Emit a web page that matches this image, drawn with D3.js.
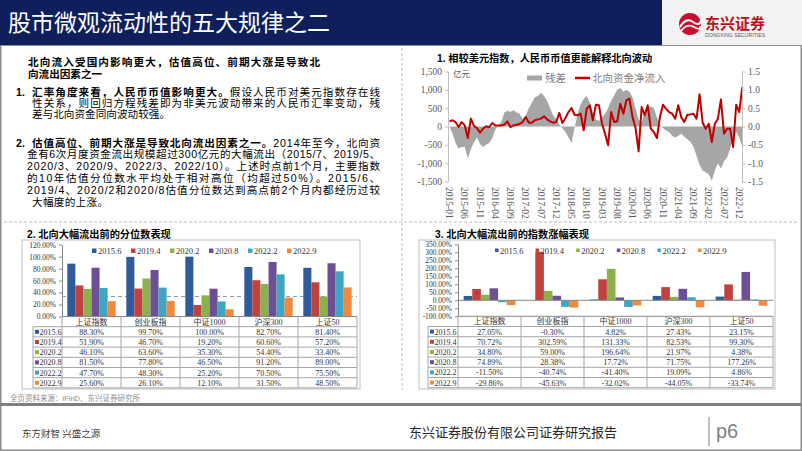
<!DOCTYPE html>
<html><head><meta charset="utf-8">
<script src="https://cdn.jsdelivr.net/npm/d3@7"></script>
<style>body{margin:0;background:#fff}svg{display:block}</style>
</head><body>
<svg id="c" width="802" height="451"></svg>
<script>
// ---------------- DATA ----------------
const tickMonths = ["2015-01","2015-06","2015-11","2016-04","2016-09","2017-02","2017-07","2017-12","2018-05","2018-10","2019-03","2019-08","2020-01","2020-06","2020-11","2021-04","2021-09","2022-02","2022-07","2022-12"];
// northbound net inflow (亿元), monthly 2015-01 .. 2023-01
const inflow = [140,170,120,-15,120,30,-315,215,15,-40,
  -170,-60,5,-20,95,30,30,30,50,140,
  -20,30,50,70,120,260,105,105,170,195,
  215,280,195,140,105,120,370,95,230,395,
  505,320,305,350,-105,485,577,168,595,577,
  77,-195,-513,395,123,141,622,350,714,759,
  259,-40,-677,532,305,577,-59,-150,-314,259,
  595,480,395,350,214,577,250,123,323,330,
  350,214,880,100,-59,77,-423,77,214,740,
  -195,-59,-59,-559,595,395,1077];
// residual (right axis)
const residual = [0.00,-0.20,-0.45,-0.60,-0.56,-0.55,-0.87,-0.62,-0.43,-0.30,
  -0.48,-0.56,-0.50,-0.45,-0.32,-0.08,0.02,0.12,0.38,0.43,
  0.40,0.44,0.38,0.35,0.20,0.30,0.50,0.65,0.80,0.83,
  0.92,0.83,0.70,0.50,0.30,0.20,0.06,-0.05,-0.15,-0.30,
  -0.45,-0.05,0.35,0.60,0.75,0.83,0.65,0.40,0.20,0.15,
  0.25,0.35,0.50,0.70,0.85,1.00,1.05,0.95,1.00,0.95,
  0.80,0.50,0.20,0.10,0.40,0.50,0.55,0.50,0.25,0.05,
  -0.05,-0.10,-0.15,-0.25,-0.30,-0.25,-0.20,-0.28,-0.35,-0.42,
  -0.55,-0.80,-1.05,-1.20,-1.25,-1.30,-1.48,-1.20,-1.00,-1.15,
  -0.95,-0.85,-0.60,-0.35,-0.15,-0.30,-0.55];

const indices = ["上证指数","创业板指","中证1000","沪深300","上证50"];
const periods = ["2015.6","2019.4","2020.2","2020.8","2022.2","2022.9"];
// chart 2: valuation percentile (%)
const pct2015_6 = [88.30, 99.70, 100.00, 82.70, 81.40];
const pct2019_4 = [51.90, 46.70, 19.20, 60.60, 57.20];
const pct2020_2 = [46.10, 63.60, 35.30, 54.40, 33.40];
const pct2020_8 = [81.50, 77.80, 46.50, 91.20, 89.00];
const pct2022_2 = [47.70, 48.30, 25.20, 70.50, 75.50];
const pct2022_9 = [25.60, 26.10, 12.10, 31.50, 48.50];
const pctTicks = [0,20,40,60,80,100,120];
const pctRefLine = 33.5;
// chart 3: index gain (%)
const gain2015_6 = [27.05, -0.30, 4.82, 27.43, 23.15];
const gain2019_4 = [70.72, 302.59, 131.33, 82.53, 99.30];
const gain2020_2 = [34.80, 59.00, 196.64, 21.97, 4.38];
const gain2020_8 = [74.89, 28.38, 17.72, 71.75, 177.26];
const gain2022_2 = [-11.50, -40.74, -41.40, 19.09, 4.86];
const gain2022_9 = [-29.86, -45.63, -32.02, -44.05, -33.74];
const gainTicks = [-100,-50,0,50,100,150,200,250,300,350];

// ---------------- STYLE ----------------
const SANS = "'Liberation Sans','Noto Sans CJK SC',sans-serif";
const SERIF = "'Liberation Serif','Noto Sans CJK SC',serif";
const CJK = "'Noto Sans CJK SC',sans-serif";
const barColors = ["#2f5b9a","#c0413d","#8db04f","#6c5093","#3ea6c2","#f08a3c"];

const svg = d3.select("#c");

// frame & header
svg.append("rect").attr("x",0.75).attr("y",0.75).attr("width",800.5).attr("height",449.5)
  .attr("fill","none").attr("stroke","#8c8c8c").attr("stroke-width",1.5);
svg.append("rect").attr("x",0).attr("y",0).attr("width",662).attr("height",45).attr("fill","#0e1f5b");
svg.append("rect").attr("x",662).attr("y",0).attr("width",140).attr("height",45).attr("fill","#f2f2f2");
svg.append("line").attr("x1",0).attr("x2",802).attr("y1",45.5).attr("y2",45.5).attr("stroke","#8c8c8c");
svg.append("text").attr("x",8).attr("y",31).attr("fill","#fff").attr("font-size",23)
  .attr("font-family",CJK).text("股市微观流动性的五大规律之二");
// logo
const logo = svg.append("g");
logo.append("circle").attr("cx",690).attr("cy",24).attr("r",11).attr("fill","#c8102e");
logo.append("path").attr("d","M680,27 Q686,17 693,22 T701,20").attr("stroke","#fff").attr("stroke-width",2).attr("fill","none");
logo.append("path").attr("d","M681,31 Q687,23 694,27 T700,26").attr("stroke","#fff").attr("stroke-width",1.6).attr("fill","none");
logo.append("text").attr("x",705).attr("y",29).attr("font-size",15).attr("font-weight","bold")
  .attr("font-family",CJK).attr("fill","#b5121b").attr("textLength",60).text("东兴证券");
logo.append("text").attr("x",705).attr("y",37).attr("font-size",5).attr("font-family",SANS)
  .attr("fill","#555").attr("textLength",60).text("DONGXING SECURITIES");

// dashed separators
svg.append("line").attr("x1",402).attr("x2",402).attr("y1",48).attr("y2",390)
  .attr("stroke","#bfbfbf").attr("stroke-dasharray","3,2");
svg.append("line").attr("x1",4).attr("x2",798).attr("y1",222).attr("y2",222)
  .attr("stroke","#bfbfbf").attr("stroke-dasharray","3,2");

// ---------------- LEFT TEXT ----------------
function para(x, y, segs, width, size) {
  const t = svg.append("text").attr("x",x).attr("y",y).attr("font-size",size||10.6)
    .attr("font-family",SANS).attr("fill","#000");
  segs.forEach(([s,b]) => t.append("tspan").attr("font-weight", b ? "bold" : "normal").text(s));
  if (width) t.attr("textLength",width).attr("lengthAdjust","spacing");
  return t;
}
para(28,65.5,[["北向流入受国内影响更大，估值高位、前期大涨是导致北",true]],292);
para(28,77.5,[["向流出因素之一",true]],null);
para(16,95.5,[["1.",true]]);
para(32,95.5,[["汇率角度来看，人民币币值影响更大。",true],["假设人民币对美元指数存在线",false]],348);
para(32,106.7,[["性关系，则回归方程残差即为非美元波动带来的人民币汇率变动，残",false]],348);
para(32,117.6,[["差与北向资金同向波动较强。",false]],138);
para(16,146.5,[["2.",true]]);
para(32,146.5,[["估值高位、前期大涨是导致北向流出因素之一。",true],["2014年至今，北向资",false]],348);
para(27,158,[["金有6次月度资金流出规模超过300亿元的大幅流出（2015/7、2019/5、",false]],353);
para(27,170,[["2020/3、2020/9、2022/3、2022/10）。上述时点前1个月，主要指数",false]],353);
para(27,182,[["的10年估值分位数水平均处于相对高位（均超过50%）。2015/6、",false]],353);
para(27,193.8,[["2019/4、2020/2和2020/8估值分位数达到高点前2个月内都经历过较",false]],353);
para(32,205.5,[["大幅度的上涨。",false]],76);

// ---------------- CHART 1 (top right) ----------------
const months = [];
for (let y = 2015; y <= 2023; y++) for (let m = 1; m <= 12; m++)
  if (months.length < inflow.length) months.push(y + "-" + String(m).padStart(2,"0"));
const xT = d3.scalePoint().domain(months).range([449.5, 742.3]);
const yL = d3.scaleLinear().domain([-1500,1500]).range([181.5,71.5]);
const yR = d3.scaleLinear().domain([-1.5,1.5]).range([181.5,71.5]);
const c1 = svg.append("g");
c1.append("text").attr("x",437).attr("y",62).attr("font-size",10.2).attr("font-weight","bold")
  .attr("font-family",SANS).text("1.  相较美元指数，人民币币值更能解释北向波动");
c1.append("path").datum(residual)
  .attr("d", d3.area().x((d,i)=>xT(months[i])).y0(yR(0)).y1(d=>yR(d)))
  .attr("fill","#a6a6a6");
c1.append("path").datum(inflow)
  .attr("d", d3.line().x((d,i)=>xT(months[i])).y(d=>yL(d)))
  .attr("fill","none").attr("stroke","#c00000").attr("stroke-width",2).attr("stroke-linejoin","round");
const fmtL = d => (d<0?"-":"") + d3.format(",")(Math.abs(d));
const fmtR = d => (d<0?"-":"") + Math.abs(d).toFixed(1);
const axL = c1.append("g").attr("transform","translate(448,0)")
  .call(d3.axisLeft(yL).tickValues(d3.range(-1500,1501,500)).tickSize(3).tickSizeOuter(0).tickFormat(fmtL));
const axR = c1.append("g").attr("transform","translate(742,0)")
  .call(d3.axisRight(yR).tickValues(d3.range(-1.5,1.51,0.5)).tickSize(3).tickSizeOuter(0).tickFormat(fmtR));
[axL,axR].forEach(a => {
  a.select(".domain").attr("stroke","#bfbfbf");
  a.selectAll("line").attr("stroke","#bfbfbf");
  a.selectAll("text").attr("font-family",SERIF).attr("font-size",9.5).attr("fill","#595959");
});
c1.selectAll(".xl").data(tickMonths).join("text")
  .attr("transform", d => `translate(${xT(d)},187) rotate(90)`)
  .attr("dy","0.35em").attr("font-family",SERIF).attr("font-size",9.5).attr("fill","#595959")
  .text(d => d);
c1.append("text").attr("x",453).attr("y",77).attr("font-size",8.5).attr("font-family",CJK)
  .attr("fill","#595959").text("亿元");
c1.append("rect").attr("x",527).attr("y",75.5).attr("width",15).attr("height",5).attr("fill","#a6a6a6");
c1.append("text").attr("x",545).attr("y",82).attr("font-size",10.5).attr("font-family",CJK)
  .attr("fill","#808080").text("残差");
c1.append("line").attr("x1",575).attr("x2",590).attr("y1",78).attr("y2",78)
  .attr("stroke","#c00000").attr("stroke-width",2.5);
c1.append("text").attr("x",592).attr("y",82).attr("font-size",10.5).attr("font-family",CJK)
  .attr("fill","#808080").text("北向资金净流入");

// ---------------- BAR + TABLE CHARTS ----------------
function barTable(o) {
  const g = svg.append("g");
  g.append("rect").attr("x",o.box[0]).attr("y",o.box[1]).attr("width",o.box[2]-o.box[0])
    .attr("height",o.box[3]-o.box[1]).attr("fill","#fff").attr("stroke","#bfbfbf");
  g.append("text").attr("x",o.titleX).attr("y",238).attr("font-size",10.2).attr("font-weight","bold")
    .attr("font-family",SANS).text(o.title);
  const x = d3.scaleBand().domain(indices).range([o.px0,o.px1]).padding(0);
  const xs = d3.scaleBand().domain(periods).range([x.bandwidth()*0.09, x.bandwidth()*0.91]).padding(0);
  const y = d3.scaleLinear().domain(o.domain).range(o.range);
  // axis
  const ax = g.append("g").attr("transform",`translate(${o.px0},0)`)
    .call(d3.axisLeft(y).tickValues(o.ticks).tickSize(3).tickSizeOuter(0).tickFormat(d=>d.toFixed(2)+"%"));
  ax.select(".domain").attr("stroke","#868686");
  ax.selectAll("line").attr("stroke","#868686");
  ax.selectAll("text").attr("font-family",SERIF).attr("font-size",7.5).attr("fill","#333");
  if (o.refLine != null) {
    g.append("line").attr("x1",o.px0).attr("x2",o.px1).attr("y1",y(o.refLine)).attr("y2",y(o.refLine))
      .attr("stroke","#8497b0").attr("stroke-dasharray","4,3");
  }
  // bars
  o.series.forEach((vals,si) => {
    g.selectAll(null).data(vals).join("rect")
      .attr("x",(d,i)=>x(indices[i]) + xs(periods[si]))
      .attr("width",xs.bandwidth())
      .attr("y",d=>y(Math.max(0,d)))
      .attr("height",d=>Math.abs(y(d)-y(0)))
      .attr("fill",barColors[si]);
  });
  if (o.zeroLine) g.append("line").attr("x1",o.px0).attr("x2",o.px1).attr("y1",y(0)).attr("y2",y(0)).attr("stroke","#868686");
  // legend
  periods.forEach((p,si) => {
    const lx = o.legX0 + si*o.legStep;
    g.append("rect").attr("x",lx).attr("y",o.legY-2.5).attr("width",o.legSq).attr("height",o.legSq).attr("fill",barColors[si]);
    g.append("text").attr("x",lx+o.legSq+1.5).attr("y",o.legY+3).attr("font-size",8.5)
      .attr("font-family",SERIF).attr("fill","#333").text(p);
  });
  // table
  const top = o.rowTop, rh = o.rowH, bottom = top + 7*rh;
  const grid = "#a6a6a6";
  g.append("line").attr("x1",o.px0).attr("x2",o.px1).attr("y1",top).attr("y2",top).attr("stroke","#868686");
  for (let k=1;k<=7;k++) g.append("line").attr("x1",o.lx0).attr("x2",o.px1).attr("y1",top+k*rh).attr("y2",top+k*rh).attr("stroke",grid);
  g.append("line").attr("x1",o.lx0).attr("x2",o.lx0).attr("y1",top+rh).attr("y2",bottom).attr("stroke",grid);
  indices.concat([null]).forEach((c,i) => {
    const xx = c ? x(c) : o.px1;
    g.append("line").attr("x1",xx).attr("x2",xx).attr("y1",top).attr("y2",bottom).attr("stroke",grid);
  });
  indices.forEach(c => g.append("text").attr("x",x(c)+x.bandwidth()/2).attr("y",top+rh/2+3)
    .attr("text-anchor","middle").attr("font-size",8).attr("font-family",SERIF).attr("fill","#333").text(c));
  periods.forEach((p,si) => {
    const ry = top + (si+1)*rh;
    g.append("rect").attr("x",o.lx0+2).attr("y",ry+rh/2-2).attr("width",4).attr("height",4).attr("fill",barColors[si]);
    g.append("text").attr("x",o.lx0+6.5).attr("y",ry+rh/2+3).attr("font-size",8).attr("font-family",SERIF)
      .attr("fill","#333").text(p);
    o.series[si].forEach((v,i) => g.append("text").attr("x",x(indices[i])+x.bandwidth()/2).attr("y",ry+rh/2+3)
      .attr("text-anchor","middle").attr("font-size",8).attr("font-family",SERIF).attr("fill","#333")
      .text(v.toFixed(2)+"%"));
  });
}
barTable({
  box:[22,240,360,389], title:"2.  北向大幅流出前的分位数表现", titleX:27,
  px0:62, px1:357, domain:[0,120], range:[316.5,244.7], ticks:pctTicks, refLine:pctRefLine,
  series:[pct2015_6,pct2019_4,pct2020_2,pct2020_8,pct2022_2,pct2022_9],
  legX0:92, legStep:39, legY:251, legSq:4.5,
  rowTop:316.5, rowH:10.2, lx0:33, zeroLine:false
});
barTable({
  box:[419,240,775,389], title:"3. 北向大幅流出前的指数涨幅表现", titleX:435,
  px0:458, px1:773, domain:[-100,350], range:[316.3,244.3], ticks:gainTicks, refLine:null,
  series:[gain2015_6,gain2019_4,gain2020_2,gain2020_8,gain2022_2,gain2022_9],
  legX0:495, legStep:40.6, legY:251, legSq:3.5,
  rowTop:316.3, rowH:10.2, lx0:428, zeroLine:true
});

// ---------------- FOOTER ----------------
svg.append("text").attr("x",10).attr("y",401).attr("font-size",7.5).attr("font-family",SANS)
  .attr("fill","#8c8c8c").text("全页资料来源：iFinD、东兴证券研究所");
svg.append("line").attr("x1",0).attr("x2",802).attr("y1",404.5).attr("y2",404.5).attr("stroke","#7f7f7f").attr("stroke-width",3);
svg.append("text").attr("x",22).attr("y",437).attr("font-size",9.5).attr("font-family",CJK)
  .attr("fill","#404040").text("东方财智 兴盛之源");
svg.append("text").attr("x",409).attr("y",437).attr("font-size",13).attr("font-family",CJK)
  .attr("fill","#262626").attr("textLength",208).text("东兴证券股份有限公司证券研究报告");
svg.append("line").attr("x1",709).attr("x2",709).attr("y1",417).attr("y2",446).attr("stroke","#7f7f7f");
svg.append("text").attr("x",716).attr("y",438).attr("font-size",20).attr("font-family",SANS)
  .attr("fill","#7f7f7f").text("p6");
</script>
</body></html>
